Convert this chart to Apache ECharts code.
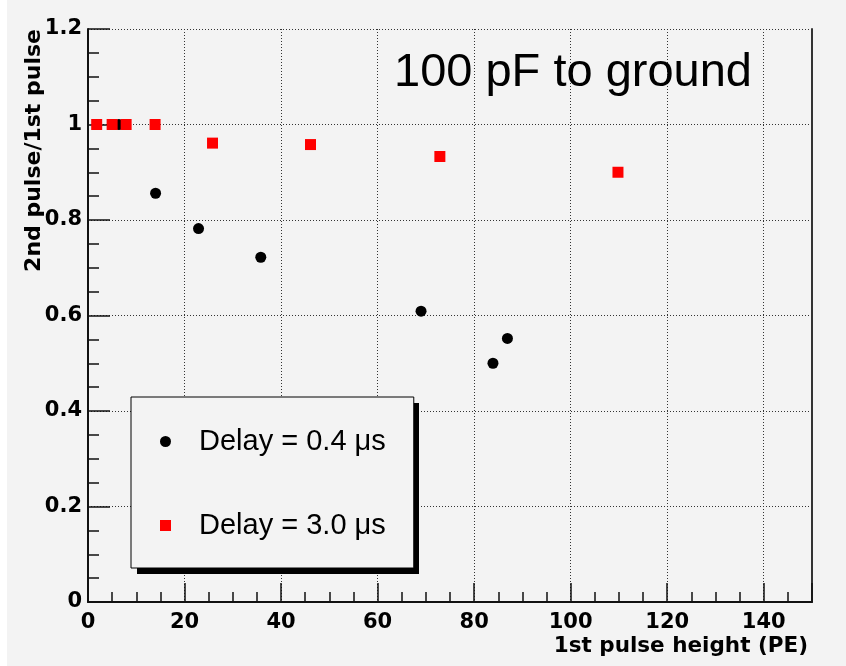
<!DOCTYPE html>
<html>
<head>
<meta charset="utf-8">
<script src="https://cdn.jsdelivr.net/npm/echarts@6/dist/echarts.min.js"></script>
<style>
html,body{margin:0;padding:0;background:#fff;}
#chart{width:846px;height:666px;}
</style>
</head>
<body>
<div id="chart"></div>
<script>
// Data
const seriesNames = ['Delay = 0.4 \u03bcs', 'Delay = 3.0 \u03bcs'];
const delay04 = [[6.4, 1.0], [14.0, 0.856], [22.9, 0.782], [35.8, 0.722], [69.0, 0.609], [83.9, 0.500], [86.9, 0.552]];
const delay30 = [[1.8, 1.0], [5.0, 1.0], [7.9, 1.0], [13.9, 1.0], [25.8, 0.961], [46.1, 0.958], [72.9, 0.933], [109.8, 0.900]];
const xTitle = '1st pulse height (PE)';
const yTitle = '2nd pulse/1st pulse';
const annotation = '100 pF to ground';

const chart = echarts.init(document.getElementById('chart'), null, {renderer: 'canvas'});
const labelFont = {color: '#000', fontWeight: 'bold', fontFamily: 'DejaVu Sans', fontSize: 21};
const option = {
  backgroundColor: '#f3f3f3',
  animation: false,
  title: {
    text: annotation, left: 394, top: 50, padding: 0,
    textStyle: {fontFamily: 'Liberation Sans', fontWeight: 'normal', fontSize: 47, color: '#000'}
  },
  graphic: [
    {type: 'rect', left: 0, top: 0, shape: {width: 7, height: 666}, style: {fill: '#fff'}, silent: true, z: 0},
    {type: 'rect', left: 137, top: 403, shape: {width: 282, height: 171}, style: {fill: '#000'}, silent: true, z: 1}
  ],
  grid: {left: 88, top: 29, right: 34, bottom: 64, containLabel: false},
  legend: {
    orient: 'vertical', left: 131, top: 397, z: 10,
    data: [{name: seriesNames[0], icon: 'circle'}, {name: seriesNames[1], icon: 'rect'}],
    itemWidth: 11, itemHeight: 11, itemGap: 55,
    padding: [30, 28, 28, 29],
    backgroundColor: '#f3f3f3', borderColor: '#000', borderWidth: 1,
    textStyle: {fontFamily: 'Liberation Sans', fontSize: 29, color: '#000', lineHeight: 29, padding: [0, 0, 0, 23]},
    selectedMode: false
  },
  xAxis: {
    type: 'value', min: 0, max: 150, interval: 20,
    name: xTitle, nameLocation: 'end', nameGap: -4, nameMoveOverlap: false,
    nameTextStyle: {color: '#000', fontWeight: 'bold', fontFamily: 'DejaVu Sans', fontSize: 21.5, align: 'right', verticalAlign: 'top', padding: [33, 0, 0, 0]},
    axisLine: {show: true, onZero: false, lineStyle: {color: '#111', width: 2}},
    axisTick: {show: true, inside: true, length: 19, lineStyle: {color: '#111', width: 1.5}},
    minorTick: {show: true, splitNumber: 4, length: 10, lineStyle: {color: '#111', width: 1.5}},
    axisLabel: Object.assign({margin: 10, showMaxLabel: false}, labelFont),
    splitLine: {show: true, lineStyle: {color: '#333', type: [1, 2], width: 1}},
    minorSplitLine: {show: false}
  },
  yAxis: [{
    type: 'value', min: 0, max: 1.2, interval: 0.2,
    name: yTitle, nameLocation: 'end', nameGap: 0, nameRotate: 90, nameMoveOverlap: false,
    nameTextStyle: {color: '#000', fontWeight: 'bold', fontFamily: 'DejaVu Sans', fontSize: 22, lineHeight: 22, align: 'right', verticalAlign: 'bottom', padding: [0, 0, 43, 0]},
    axisLine: {show: true, onZero: false, lineStyle: {color: '#111', width: 2}},
    axisTick: {show: true, inside: true, length: 22, lineStyle: {color: '#111', width: 1.5}},
    minorTick: {show: true, splitNumber: 4, length: 11, lineStyle: {color: '#111', width: 1.5}},
    axisLabel: Object.assign({margin: 6}, labelFont),
    splitLine: {show: true, lineStyle: {color: '#333', type: [1, 2], width: 1}}
  }, {
    type: 'value', min: 0, max: 1.2, interval: 0.2, position: 'right',
    axisLine: {show: true, onZero: false, lineStyle: {color: '#333', width: 2}},
    axisTick: {show: false}, axisLabel: {show: false}, splitLine: {show: false}
  }],
  series: [{
    name: seriesNames[0], type: 'scatter', data: delay04,
    symbol: 'circle', symbolSize: 11,
    itemStyle: {color: '#000', opacity: 1}, z: 3
  }, {
    name: seriesNames[1], type: 'scatter', data: delay30,
    symbol: 'rect', symbolSize: 11,
    itemStyle: {color: '#ff0000', opacity: 1}, z: 4
  }]
};
chart.setOption(option);
</script>
</body>
</html>
